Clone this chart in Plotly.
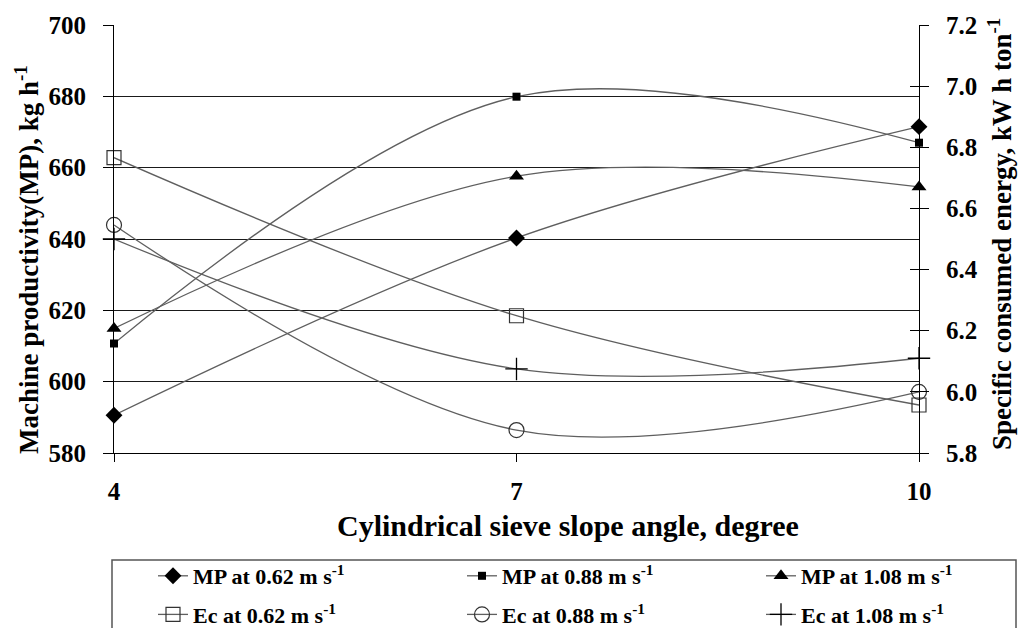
import plotly.graph_objects as go

# ---- data ----
angle = [4, 7, 10]
tick_labels = ["4", "7", "10"]
mp_062 = [590.6, 640.3, 671.5]
mp_088 = [610.7, 679.9, 667.0]
mp_108 = [614.9, 657.6, 654.6]
ec_062 = [6.766, 6.249, 5.957]
ec_088 = [6.546, 5.875, 6.000]
ec_108 = [6.500, 6.075, 6.110]

names_mp = ["MP at 0.62 m s<sup>-1</sup>", "MP at 0.88 m s<sup>-1</sup>", "MP at 1.08 m s<sup>-1</sup>"]
names_ec = ["Ec at 0.62 m s<sup>-1</sup>", "Ec at 0.88 m s<sup>-1</sup>", "Ec at 1.08 m s<sup>-1</sup>"]

FONT = "Liberation Serif, Times New Roman, serif"
LINE_C = "#5f5f5f"

fig = go.Figure()

mp_series = [mp_062, mp_088, mp_108]
ec_series = [ec_062, ec_088, ec_108]
mp_markers = [dict(symbol="diamond", size=13, color="black"),
              dict(symbol="square", size=8, color="black"),
              dict(symbol="triangle-up", size=13, color="black")]
ec_markers = [dict(symbol="square-open", size=14, color="#333333", line=dict(width=1.2)),
              dict(symbol="circle-open", size=15, color="#333333", line=dict(width=1.2)),
              dict(symbol="cross-thin", size=16, color="black", line=dict(width=1.3, color="black"))]
legends = ["legend", "legend2", "legend3"]

for i in range(3):
    fig.add_trace(go.Scatter(
        x=angle, y=mp_series[i], name=names_mp[i], mode="lines+markers",
        line=dict(color=LINE_C, width=1.3, shape="spline", smoothing=1),
        marker=mp_markers[i], cliponaxis=False, legend=legends[i],
        legendgroup="mp%d" % i, yaxis="y"))
    fig.add_trace(go.Scatter(
        x=angle, y=ec_series[i], name=names_ec[i], mode="lines+markers",
        line=dict(color=LINE_C, width=1.3, shape="spline", smoothing=1),
        marker=ec_markers[i], cliponaxis=False, legend=legends[i],
        legendgroup="ec%d" % i, yaxis="y2"))

W, H = 1018, 628
L, R, T, B = 114, 99, 25, 175
pw, ph = W - L - R, H - T - B

def px_x(p):
    return (p - L) / pw

def px_y(p):
    return (H - B - p) / ph

def cy(p):
    return 1 - p / H

TF = dict(family=FONT, size=25, color="black", weight="bold")

leg_common = dict(font=dict(family=FONT, size=22, color="black", weight="bold"),
                  bgcolor="rgba(0,0,0,0)", orientation="v", yanchor="top", xanchor="left",
                  yref="container", xref="paper", tracegroupgap=7, itemwidth=30)

fig.update_layout(
    width=W, height=H,
    margin=dict(l=L, r=R, t=T, b=B),
    paper_bgcolor="white", plot_bgcolor="white",
    font=dict(family=FONT, size=25, color="black", weight="bold"),
    showlegend=True,
    legend=dict(x=px_x(153), y=cy(555), **leg_common),
    legend2=dict(x=px_x(462), y=cy(555), **leg_common),
    legend3=dict(x=px_x(761), y=cy(555), **leg_common),
    xaxis=dict(range=[4, 10], tickvals=angle, ticktext=tick_labels,
               showline=True, linecolor="black", linewidth=1.2,
               ticks="outside", ticklen=8, tickcolor="black",
               showgrid=False, zeroline=False, ticklabelstandoff=8,
               tickfont=TF),
    yaxis=dict(range=[580, 700], dtick=20, showline=True, linecolor="black", linewidth=1.2,
               ticks="outside", ticklen=10, tickcolor="black",
               showgrid=True, gridcolor="#1a1a1a", gridwidth=1, zeroline=False,
               ticklabelstandoff=12, tickfont=TF),
    yaxis2=dict(range=[5.8, 7.2], dtick=0.2, tickformat=".1f", overlaying="y", side="right",
                showline=True, linecolor="black", linewidth=1.2,
                ticks="outside", ticklen=9, tickcolor="black",
                showgrid=False, zeroline=False, ticklabelstandoff=12, tickfont=TF),
    yaxis3=dict(matches="y2", overlaying="y", side="right", ticks="inside", ticklen=9,
                tickcolor="black", showticklabels=False, showgrid=False, showline=False,
                zeroline=False, dtick=0.2),
    annotations=[
        dict(text="Machine productivity(MP), kg h<sup>-1</sup>", xref="paper", yref="paper",
             x=px_x(27), y=px_y(260), textangle=-90, showarrow=False,
             xanchor="center", yanchor="middle",
             font=dict(family=FONT, size=27, weight="bold", color="black")),
        dict(text="Specific consumed energy, kW h ton<sup>-1</sup>", xref="paper", yref="paper",
             x=px_x(1000), y=px_y(234), textangle=-90, showarrow=False,
             xanchor="center", yanchor="middle",
             font=dict(family=FONT, size=27, weight="bold", color="black")),
        dict(text="Cylindrical sieve slope angle, degree", xref="paper", yref="paper",
             x=px_x(568), y=px_y(525), showarrow=False,
             xanchor="center", yanchor="middle",
             font=dict(family=FONT, size=30, weight="bold", color="black")),
    ],
    shapes=[
        dict(type="rect", xref="paper", yref="paper",
             x0=px_x(112), x1=px_x(1016), y0=px_y(560), y1=px_y(660),
             line=dict(color="#555555", width=1.5), fillcolor="rgba(0,0,0,0)", layer="below"),
    ],
)

# invisible helper trace so the crossing tick axis is drawn
fig.add_trace(go.Scatter(x=[4], y=[5.8], yaxis="y3", mode="markers",
                         marker=dict(opacity=0), showlegend=False, hoverinfo="skip"))

fig.write_html("out.html", config={"displayModeBar": False},
               post_script="document.body.style.margin='0';document.body.style.overflow='hidden';")
